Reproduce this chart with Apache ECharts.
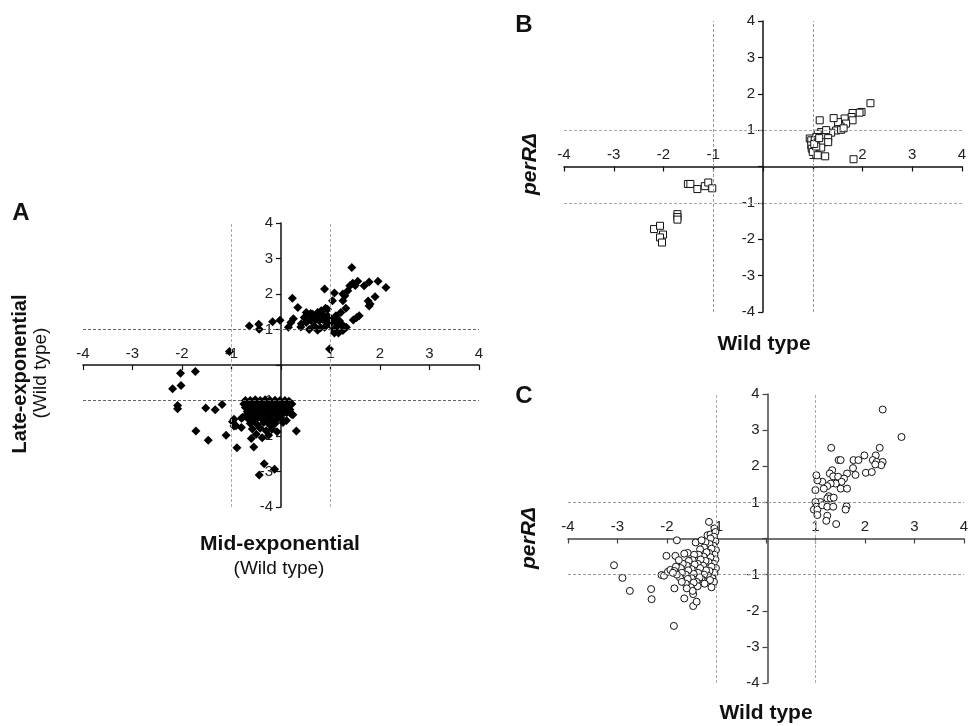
<!DOCTYPE html>
<html>
<head>
<meta charset="utf-8">
<script src="https://cdn.jsdelivr.net/npm/echarts@6/dist/echarts.min.js"></script>
<style>
  html, body { margin: 0; padding: 0; background: #fff; }
  #chart { width: 971px; height: 726px; }
</style>
</head>
<body>
<div id="chart"></div>
<script>
// axis range and guide lines (log2 ratio)
var axisMin = -4
var axisMax = 4
var thresholds = [-1, 1]

// A: mid-exponential (x) vs late-exponential (y), wild type
var pointsA = [
  [-0.64, 1.10], [-0.45, 1.15], [-0.44, 1.01], [-0.17, 1.22], [-0.02, 1.26],
  [0.15, 1.06], [0.20, 1.20], [0.25, 1.30], [0.23, 1.88], [0.34, 1.62], [0.41, 1.16], [0.40, 1.07],
  [0.47, 1.34], [0.51, 1.48], [0.51, 1.20], [0.54, 1.39], [0.57, 1.00], [0.60, 1.45], [0.61, 1.25],
  [0.64, 1.43], [0.67, 1.10], [0.68, 1.32], [0.71, 1.29], [0.74, 1.48], [0.74, 0.98], [0.77, 1.25],
  [0.77, 1.34], [0.80, 1.05], [0.81, 1.53], [0.84, 1.29], [0.86, 1.40], [0.88, 1.06], [0.88, 2.14],
  [0.90, 1.60], [0.92, 1.20], [0.94, 1.39], [0.94, 1.57], [0.98, 1.15], [1.02, 1.30], [1.04, 1.81],
  [1.06, 1.00], [1.08, 2.03], [1.08, 1.24], [1.08, 0.90], [1.11, 1.39], [1.14, 1.10], [1.16, 0.90],
  [1.18, 1.25], [1.21, 1.48], [1.23, 1.15], [1.25, 0.97], [1.25, 1.81], [1.25, 2.00], [1.27, 1.05],
  [1.29, 1.95], [1.31, 1.60], [1.32, 1.06], [1.35, 2.09], [1.39, 2.23], [1.43, 2.75], [1.46, 1.27],
  [1.45, 2.30], [1.50, 2.24], [1.53, 1.34], [1.55, 2.36], [1.58, 1.39], [1.68, 2.23], [1.78, 2.34],
  [1.76, 1.80], [1.78, 1.66], [1.80, 1.72], [1.90, 1.92], [1.96, 2.36], [2.12, 2.18],
  [0.98, 0.45], [-1.04, 0.38],
  [-2.19, -0.67], [-2.03, -0.23], [-2.02, -0.58], [-1.73, -0.18], [-2.09, -1.14], [-2.09, -1.23],
  [-1.52, -1.21], [-1.33, -1.26], [-1.19, -1.11], [-1.72, -1.86], [-1.47, -2.12], [-1.11, -1.98],
  [-0.89, -2.33], [-0.55, -2.31], [-0.34, -2.78], [-0.13, -2.94], [-0.44, -3.10], [0.31, -1.86],
  [0.24, -1.40], [0.11, -1.56], [0.21, -1.39],
  [-0.95, -1.53], [-0.80, -1.50], [-0.95, -1.72], [-0.80, -1.76], [-0.60, -2.07], [-0.77, -1.47],
  [-0.91, -1.71], [-0.98, -1.60],
  [-0.72, -1.00], [-0.62, -1.00], [-0.52, -0.98], [-0.42, -1.00], [-0.32, -0.98], [-0.22, -1.00],
  [-0.12, -0.99], [-0.02, -1.00], [0.08, -1.00], [0.16, -1.02],
  [-0.75, -1.10], [-0.65, -1.12], [-0.55, -1.08], [-0.45, -1.10], [-0.35, -1.12], [-0.25, -1.08],
  [-0.15, -1.10], [-0.05, -1.12], [0.05, -1.08], [0.14, -1.12], [0.22, -1.10],
  [-0.72, -1.20], [-0.60, -1.22], [-0.50, -1.18], [-0.40, -1.20], [-0.30, -1.22], [-0.20, -1.18],
  [-0.10, -1.20], [0.00, -1.22], [0.10, -1.20], [0.18, -1.25],
  [-0.68, -1.32], [-0.56, -1.30], [-0.46, -1.28], [-0.36, -1.32], [-0.26, -1.30], [-0.16, -1.28],
  [-0.06, -1.32], [0.04, -1.30], [0.12, -1.34],
  [-0.70, -1.42], [-0.58, -1.40], [-0.48, -1.44], [-0.38, -1.40], [-0.28, -1.42], [-0.18, -1.38],
  [-0.08, -1.42], [0.02, -1.40],
  [-0.66, -1.52], [-0.52, -1.55], [-0.40, -1.50], [-0.30, -1.58], [-0.20, -1.52], [-0.10, -1.55], [0.00, -1.50],
  [-0.62, -1.65], [-0.48, -1.68], [-0.35, -1.62], [-0.22, -1.70], [-0.12, -1.65], [0.04, -1.62],
  [-0.58, -1.80], [-0.42, -1.78], [-0.30, -1.85], [-0.18, -1.80], [-0.08, -1.88],
  [-0.50, -1.95], [-0.25, -1.98], [-0.38, -2.05]
]

// B: wild type (x) vs perR mutant (y)
var pointsB = [
  [2.16, 1.74], [1.98, 1.50], [1.94, 1.48], [1.80, 1.47], [1.78, 1.36], [1.80, 1.27], [1.64, 1.32],
  [1.67, 1.18], [1.56, 1.10], [1.51, 1.04], [1.51, 1.22], [1.42, 1.33], [1.14, 1.27], [1.47, 0.99],
  [1.37, 0.93], [1.24, 0.93], [1.17, 0.95], [1.10, 0.90], [1.07, 0.81], [1.20, 0.81], [1.31, 0.78],
  [0.94, 0.77], [0.97, 0.72], [1.04, 0.72], [1.10, 0.67], [1.20, 0.67], [1.31, 0.67], [0.97, 0.58],
  [0.98, 0.49], [1.00, 0.40], [1.17, 0.52], [1.10, 0.31], [1.25, 0.28], [1.82, 0.20], [1.07, 0.55],
  [1.57, 1.01], [1.62, 1.05], [1.27, 1.00], [1.03, 0.62], [1.13, 0.78],
  [-1.51, -0.48], [-1.46, -0.48], [-1.32, -0.62], [-1.17, -0.54], [-1.10, -0.44], [-1.02, -0.60],
  [-1.72, -1.31], [-1.72, -1.39], [-1.72, -1.46],
  [-2.19, -1.72], [-2.07, -1.63], [-2.01, -1.87], [-2.07, -1.95], [-2.03, -2.09]
]

// C: wild type (x) vs perR mutant (y)
var pointsC = [
  [2.36, 3.57], [2.74, 2.81], [1.32, 2.51], [2.30, 2.51], [2.22, 2.30], [1.99, 2.30], [1.77, 2.17],
  [1.87, 2.17], [1.47, 2.17], [1.51, 2.17], [2.16, 2.17], [2.24, 2.12], [2.36, 2.12], [2.33, 2.03],
  [2.21, 2.05], [1.76, 1.95], [2.02, 1.82], [2.14, 1.84], [1.81, 1.76], [1.64, 1.80], [1.34, 1.89],
  [1.29, 1.80], [1.36, 1.72], [1.46, 1.71], [1.58, 1.66], [1.53, 1.57], [1.41, 1.52], [1.31, 1.52],
  [1.24, 1.45], [1.14, 1.57], [1.04, 1.61], [1.02, 1.75], [1.00, 1.34], [1.17, 1.38], [1.51, 1.38],
  [1.64, 1.38], [1.27, 1.17], [1.24, 1.11], [1.31, 1.11], [1.37, 1.13], [1.10, 1.01], [1.00, 1.01],
  [1.02, 0.88], [0.97, 0.80], [1.04, 0.80], [1.14, 0.92], [1.24, 0.88], [1.36, 0.88], [1.04, 0.65],
  [1.24, 0.63], [1.22, 0.49], [1.42, 0.40], [1.63, 0.89], [1.61, 0.80],
  [-3.07, -0.74], [-2.90, -1.09], [-2.75, -1.45], [-2.32, -1.40], [-2.31, -1.68], [-1.86, -2.42],
  [-1.85, -1.38], [-1.65, -1.66], [-1.47, -1.54], [-1.47, -1.87], [-1.40, -1.75], [-1.80, -0.05],
  [-2.01, -0.48], [-1.83, -0.48], [-2.11, -1.01], [-2.06, -1.03], [-1.98, -0.92], [-1.93, -0.87],
  [-1.42, -0.11], [-1.58, -0.40], [-1.15, 0.46], [-1.04, 0.28], [-1.18, 0.09], [-1.12, 0.11],
  [-1.02, 0.18], [-1.05, 0.05], [-1.02, -0.08], [-1.06, -0.20], [-1.01, -0.32], [-1.04, -0.45],
  [-1.02, -0.58], [-1.06, -0.70], [-1.01, -0.82], [-1.04, -0.95], [-1.08, -1.10], [-1.05, -1.20],
  [-1.10, -1.35],
  [-1.12, 0.00], [-1.14, -0.15], [-1.10, -0.28], [-1.15, -0.40], [-1.12, -0.52], [-1.16, -0.65],
  [-1.10, -0.78], [-1.14, -0.90], [-1.18, -1.02], [-1.13, -1.15],
  [-1.22, -0.10], [-1.25, -0.25], [-1.20, -0.38], [-1.26, -0.50], [-1.22, -0.62], [-1.27, -0.75],
  [-1.21, -0.88], [-1.25, -1.00], [-1.30, -1.12], [-1.24, -1.25],
  [-1.33, -0.30], [-1.36, -0.45], [-1.32, -0.58], [-1.38, -0.70], [-1.33, -0.82], [-1.37, -0.95],
  [-1.34, -1.08], [-1.40, -1.20], [-1.38, -1.32],
  [-1.45, -0.45], [-1.48, -0.60], [-1.44, -0.72], [-1.50, -0.85], [-1.46, -0.98], [-1.50, -1.10],
  [-1.46, -1.22], [-1.52, -1.35], [-1.48, -1.45],
  [-1.56, -0.62], [-1.60, -0.75], [-1.57, -0.88], [-1.62, -1.00], [-1.58, -1.12], [-1.62, -1.25],
  [-1.60, -1.38],
  [-1.68, -0.70], [-1.72, -0.82], [-1.70, -0.95], [-1.74, -1.08], [-1.70, -1.20], [-1.76, -0.60],
  [-1.82, -0.78], [-1.85, -0.90], [-1.80, -1.00], [-1.88, -0.95], [-1.65, -0.42], [-1.30, -0.05]
]

var font = 'Liberation Sans, Arial, Helvetica, sans-serif'
var chart = echarts.init(document.getElementById('chart'))

var grids = [
  { left: 83, top: 223, width: 396, height: 284 },
  { left: 564, top: 21, width: 398, height: 291 },
  { left: 568, top: 394, width: 399, height: 289 }
]

// axes are pushed to the middle of each grid (where 0 is) with offset
function makeX (gridIndex, lineColor) {
  return {
    type: 'value', gridIndex: gridIndex, min: axisMin, max: axisMax, interval: 1,
    position: 'bottom', offset: -grids[gridIndex].height / 2,
    axisLine: { onZero: false, lineStyle: { color: lineColor, width: 1.5 } },
    axisTick: { show: true, length: 5, lineStyle: { color: lineColor, width: 1.2 } },
    axisLabel: {
      inside: true, margin: 4, color: '#222', fontSize: 15, fontFamily: font,
      showMinLabel: true, showMaxLabel: true,
      formatter: function (v) { return v === 0 ? '' : String(v) }
    },
    splitLine: { show: false }
  }
}

function makeY (gridIndex, lineColor) {
  return {
    type: 'value', gridIndex: gridIndex, min: axisMin, max: axisMax, interval: 1,
    position: 'left', offset: -grids[gridIndex].width / 2,
    axisLine: { onZero: false, lineStyle: { color: lineColor, width: 1.5 } },
    axisTick: { show: true, length: 5, lineStyle: { color: lineColor, width: 1.2 } },
    axisLabel: {
      margin: 8, color: '#222', fontSize: 15, fontFamily: font,
      showMinLabel: true, showMaxLabel: true,
      formatter: function (v) { return v === 0 ? '' : String(v) }
    },
    splitLine: { show: false }
  }
}

function guides (hColor, vColor) {
  var data = []
  thresholds.forEach(function (t) {
    data.push({ xAxis: t, lineStyle: { color: vColor } })
    data.push({ yAxis: t, lineStyle: { color: hColor } })
  })
  return {
    silent: true, symbol: ['none', 'none'], animation: false,
    label: { show: false },
    lineStyle: { type: [3, 2], width: 1 },
    data: data
  }
}

function txt (text, x, y, size, weight, rotate, style) {
  return {
    type: 'text', x: x, y: y, rotation: rotate ? Math.PI / 2 : 0, silent: true,
    style: {
      text: text, fill: '#111', align: 'center', verticalAlign: 'middle',
      font: (style || 'normal') + ' ' + weight + ' ' + size + 'px ' + font
    }
  }
}

var option = {
  backgroundColor: '#fff',
  animation: false,
  grid: grids,
  xAxis: [makeX(0, '#111'), makeX(1, '#111'), makeX(2, '#444')],
  yAxis: [makeY(0, '#111'), makeY(1, '#111'), makeY(2, '#444')],
  series: [
    {
      type: 'scatter', xAxisIndex: 0, yAxisIndex: 0, data: pointsA,
      symbol: 'diamond', symbolSize: 9,
      itemStyle: { color: '#000', opacity: 1 },
      markLine: guides('#666', '#aaa')
    },
    {
      type: 'scatter', xAxisIndex: 1, yAxisIndex: 1, data: pointsB,
      symbol: 'rect', symbolSize: 7,
      itemStyle: { color: '#fff', borderColor: '#111', borderWidth: 1, opacity: 1 },
      markLine: guides('#aaa', '#999')
    },
    {
      type: 'scatter', xAxisIndex: 2, yAxisIndex: 2, data: pointsC,
      symbol: 'circle', symbolSize: 7,
      itemStyle: { color: '#fff', borderColor: '#111', borderWidth: 1, opacity: 1 },
      markLine: guides('#999', '#aaa')
    }
  ],
  graphic: [
    txt('A', 21, 213, 24, 'bold'),
    txt('Late-exponential', 20, 374, 20, 'bold', true),
    txt('(Wild type)', 41, 373, 19, 'normal', true),
    txt('Mid-exponential', 280, 544, 21, 'bold'),
    txt('(Wild type)', 279, 569, 19, 'normal'),
    txt('B', 524, 25, 24, 'bold'),
    txt('perRΔ', 530, 164, 21, 'bold', true, 'italic'),
    txt('Wild type', 764, 344, 21, 'bold'),
    txt('C', 524, 396, 24, 'bold'),
    txt('perRΔ', 529, 538, 21, 'bold', true, 'italic'),
    txt('Wild type', 766, 713, 21, 'bold')
  ]
}

chart.setOption(option)
window.addEventListener('resize', function () {
  chart.resize()
})
</script>
</body>
</html>
